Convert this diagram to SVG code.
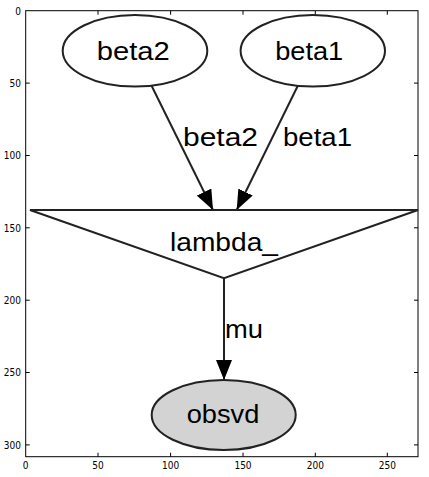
<svg xmlns="http://www.w3.org/2000/svg" width="429" height="477" viewBox="0 0 429 477">
<style>
.node{fill:#fff;stroke:#222;stroke-width:2}
.lbl{font-family:"Liberation Sans",Arial,sans-serif;font-size:25px;fill:#000;text-anchor:middle}
.edge{stroke:#222;stroke-width:2;fill:none}
.tick{stroke:#000;stroke-width:1}
.tl{font-family:"DejaVu Sans Condensed","DejaVu Sans",sans-serif;font-size:10px;fill:#000}
</style>
<defs>
<marker id="arr" viewBox="0 0 20 16" refX="20" refY="8" markerWidth="20" markerHeight="16" markerUnits="userSpaceOnUse" orient="auto">
<path d="M0,0 L20,8 L0,16 Z" fill="#000"/>
</marker>
</defs>
<rect width="429" height="477" fill="#fff"/>
<g id="axes">
<rect x="25.7" y="10.7" width="392.3" height="446" fill="none" stroke="#000" stroke-width="1"/>
<g class="tick">
<path d="M98,456.7v-4M170.6,456.7v-4M243,456.7v-4M315.3,456.7v-4M387.3,456.7v-4"/>
<path d="M98,10.7v4M170.6,10.7v4M243,10.7v4M315.3,10.7v4M387.3,10.7v4"/>
<path d="M25.7,83.1h4M25.7,155.5h4M25.7,227.8h4M25.7,300.2h4M25.7,372.5h4M25.7,444.9h4"/>
<path d="M418,83.1h-4M418,155.5h-4M418,227.8h-4M418,300.2h-4M418,372.5h-4M418,444.9h-4"/>
</g>
<g class="tl" text-anchor="middle">
<text x="25.7" y="468.5">0</text>
<text x="98" y="468.5">50</text>
<text x="170.6" y="468.5">100</text>
<text x="243" y="468.5">150</text>
<text x="315.3" y="468.5">200</text>
<text x="387.3" y="468.5">250</text>
</g>
<g class="tl" text-anchor="end">
<text x="21" y="14.5">0</text>
<text x="21" y="86.9">50</text>
<text x="21" y="159.3">100</text>
<text x="21" y="231.6">150</text>
<text x="21" y="304">200</text>
<text x="21" y="376.3">250</text>
<text x="21" y="448.7">300</text>
</g>
</g>
<g id="edges">
<line class="edge" x1="151.7" y1="86" x2="213" y2="210" marker-end="url(#arr)"/>
<line class="edge" x1="297.7" y1="86" x2="236.7" y2="210" marker-end="url(#arr)"/>
<line class="edge" x1="224" y1="278" x2="224" y2="380" marker-end="url(#arr)"/>
<text class="lbl" x="220.5" y="145.5" textLength="75" lengthAdjust="spacingAndGlyphs">beta2</text>
<text class="lbl" x="317.5" y="145.5" textLength="69" lengthAdjust="spacingAndGlyphs">beta1</text>
<text class="lbl" x="244" y="338" textLength="38" lengthAdjust="spacingAndGlyphs">mu</text>
</g>
<g id="beta2">
<ellipse class="node" cx="135" cy="50.8" rx="72.3" ry="35.8"/>
<text class="lbl" x="133.3" y="60" textLength="73" lengthAdjust="spacingAndGlyphs">beta2</text>
</g>
<g id="beta1">
<ellipse class="node" cx="312.8" cy="50.8" rx="72.2" ry="35.8"/>
<text class="lbl" x="309.2" y="60" textLength="68" lengthAdjust="spacingAndGlyphs">beta1</text>
</g>
<g id="lambda_">
<polygon class="node" points="30,210 418,210 224,278.3"/>
<text class="lbl" x="224" y="250.7" textLength="108" lengthAdjust="spacingAndGlyphs">lambda_</text>
</g>
<g id="obsvd">
<ellipse class="node" cx="223.7" cy="415" rx="72" ry="35" style="fill:#d3d3d3"/>
<text class="lbl" x="223" y="422.7" textLength="72.6" lengthAdjust="spacingAndGlyphs">obsvd</text>
</g>
</svg>
